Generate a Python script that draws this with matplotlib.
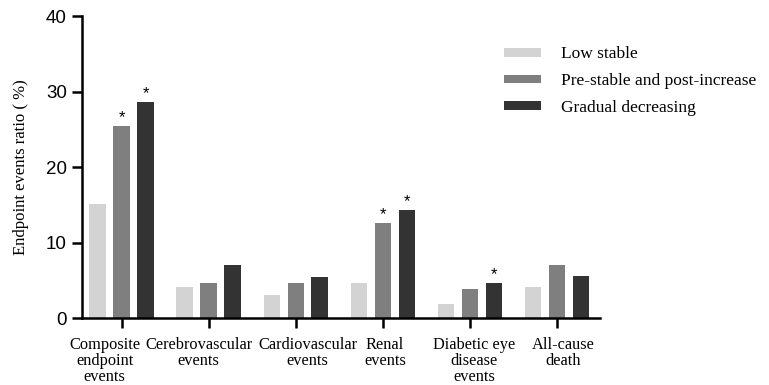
import numpy as np
import matplotlib
matplotlib.use("Agg")
import matplotlib.pyplot as plt
from matplotlib.patches import Patch
from matplotlib.transforms import ScaledTranslation

categories = ["Composite\nendpoint\nevents", "Cerebrovascular\nevents", "Cardiovascular\nevents",
              "Renal\nevents", "Diabetic eye\ndisease\nevents", "All-cause\ndeath"]
series_names = ["Low stable", "Pre-stable and post-increase", "Gradual decreasing"]
low_stable = [15.1, 4.1, 3.0, 4.7, 1.85, 4.1]
pre_stable = [25.4, 4.7, 4.7, 12.6, 3.9, 7.0]
gradual = [28.6, 7.0, 5.5, 14.3, 4.7, 5.6]
# significance markers (*) per series
stars_pre = [True, False, False, True, False, False]
stars_grad = [True, False, False, True, True, False]

colors = ["#d3d3d3", "#7f7f7f", "#333333"]
serif = "Liberation Serif"
sans = "Liberation Sans"

fig = plt.figure(figsize=(7.69, 3.85), dpi=100)
ax = fig.add_axes([0.106, 0.174, 0.674, 0.784])

x = np.arange(len(categories))
off = 0.275
w = 0.19
all_vals = [low_stable, pre_stable, gradual]
for i, vals in enumerate(all_vals):
    ax.bar(x + (i - 1) * off, vals, w, color=colors[i], edgecolor="none", zorder=2)

for xi, (v, s) in enumerate(zip(pre_stable, stars_pre)):
    if s:
        ax.text(xi, v + 0.1, "*", ha="center", va="bottom", fontsize=12, family=sans)
for xi, (v, s) in enumerate(zip(gradual, stars_grad)):
    if s:
        ax.text(xi + off, v + 0.1, "*", ha="center", va="bottom", fontsize=12, family=sans)

ax.set_xlim(-0.46, 5.49)
ax.set_ylim(0, 40)
ax.set_yticks([0, 10, 20, 30, 40])
ax.set_xticks(x)
ax.set_xticklabels([])
# category labels sit slightly off their ticks in the original
shifts_px = [-17, -10, 12, 2, 4, 6]
for xi, (lab, dx) in enumerate(zip(categories, shifts_px)):
    tr = ax.get_xaxis_transform() + ScaledTranslation(dx / 100, -0.185, fig.dpi_scale_trans)
    ax.text(xi, 0, lab, transform=tr, ha="center", va="top", multialignment="center",
            family=serif, fontsize=11.8, linespacing=1.04)
for lab in ax.get_yticklabels():
    lab.set_family(sans)
    lab.set_fontsize(13.5)
ax.tick_params(axis="both", direction="out", length=7.5, width=1.8)
ax.tick_params(axis="y", pad=3)
for sp in ["top", "right"]:
    ax.spines[sp].set_visible(False)
for sp in ["left", "bottom"]:
    ax.spines[sp].set_linewidth(1.8)

ax.set_ylabel("Endpoint events ratio ( %)", family=serif, fontsize=12, labelpad=12)

handles = [Patch(facecolor=c, edgecolor="none") for c in colors]
leg = fig.legend(handles, series_names, loc="upper left", bbox_to_anchor=(0.635, 0.92),
                 frameon=False, prop={"family": serif, "size": 12.5},
                 handlelength=2.15, handleheight=0.4, handletextpad=1.15, labelspacing=0.62)

fig.savefig("out.png", dpi=100)
